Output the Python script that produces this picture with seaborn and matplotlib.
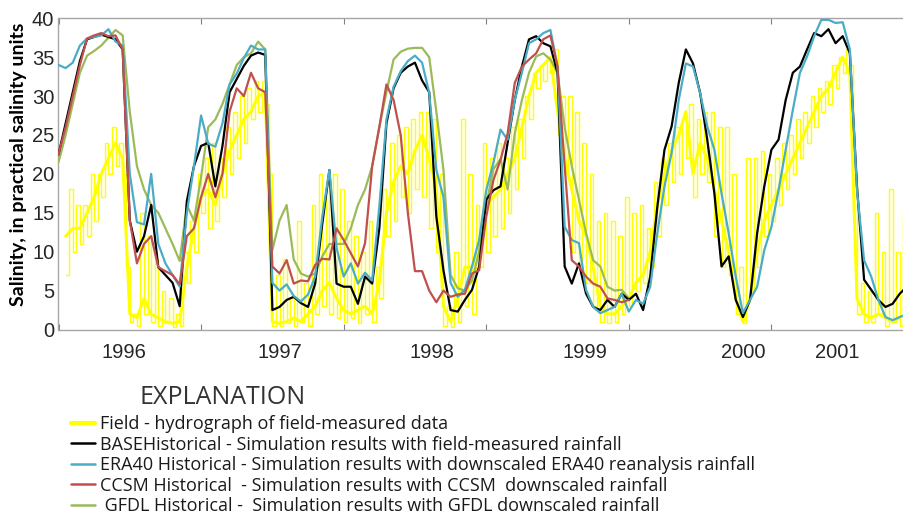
import numpy as np
import pandas as pd
import matplotlib
matplotlib.use("Agg")
import matplotlib.pyplot as plt
import seaborn as sns
from matplotlib.lines import Line2D

# ---------------- data (decimal years) ----------------
t_start = 1996.0
t_step = 0.05

base_hist = [
    22.5, 26.5, 30.5, 34.5, 37.3, 37.6, 37.9, 37.6, 37.3, 36.0, 14.0, 10.0, 12.0, 16.0, 8.0, 7.0, 6.0, 3.0, 16.5, 21.0,
    23.6, 24.0, 18.4, 23.6, 30.5, 32.2, 33.9, 35.2, 35.6, 35.3, 2.5, 2.9, 3.8, 4.2, 3.4, 2.9, 5.9, 13.6, 20.5, 5.9,
    5.5, 5.5, 3.3, 6.8, 5.9, 13.0, 26.5, 31.0, 33.0, 33.8, 34.3, 32.0, 30.5, 14.5, 7.6, 2.5, 2.3, 3.8, 5.1, 8.1,
    16.7, 17.9, 18.4, 24.0, 29.5, 33.8, 37.3, 37.7, 36.8, 36.4, 33.0, 8.1, 5.9, 8.5, 4.6, 2.9, 2.5, 3.8, 2.9, 4.6,
    3.8, 4.6, 2.5, 6.8, 15.8, 23.1, 26.1, 31.7, 36.0, 34.2, 30.4, 24.4, 17.5, 8.1, 9.4, 3.8, 1.6, 3.8, 12.4, 18.4,
    23.1, 24.4, 29.5, 33.0, 33.8, 36.0, 38.1, 37.7, 38.6, 36.8, 37.7, 35.5, 18.4, 6.4, 5.1, 3.8, 2.9, 3.3, 4.6, 5.5,
]

era40_hist = [
    34.0, 33.6, 34.3, 36.5, 37.4, 37.6, 37.8, 38.6, 37.0, 36.5, 20.0, 13.8, 13.5, 20.0, 11.0, 8.5, 7.0, 5.5, 15.0, 21.0,
    27.5, 23.9, 23.5, 26.5, 31.5, 32.9, 34.9, 36.5, 36.0, 36.0, 6.0, 5.0, 5.8, 4.3, 3.6, 4.5, 6.8, 14.5, 20.5, 10.5,
    6.8, 8.5, 5.9, 7.3, 6.3, 15.8, 27.0, 31.2, 33.2, 34.5, 35.2, 34.3, 30.4, 20.5, 17.0, 6.0, 4.2, 5.1, 8.1, 11.5,
    17.9, 21.4, 25.7, 24.4, 29.5, 33.0, 36.8, 37.3, 38.1, 38.5, 33.8, 13.2, 11.5, 11.1, 5.1, 2.9, 2.1, 2.5, 2.9, 4.6,
    2.3, 3.8, 3.3, 5.5, 12.4, 18.4, 22.7, 29.5, 34.2, 33.8, 30.4, 26.1, 23.1, 17.5, 12.4, 6.8, 2.1, 3.8, 5.5, 10.2,
    13.2, 17.9, 23.1, 28.2, 33.0, 35.1, 37.7, 39.8, 39.8, 39.4, 39.5, 36.0, 17.9, 8.9, 6.8, 3.8, 1.6, 1.2, 1.6, 2.0,
]

ccsm_hist = [
    22.5, 26.0, 30.0, 34.0, 37.4, 37.8, 38.1, 37.7, 37.8, 36.0, 14.0, 8.5, 11.0, 12.0, 8.0, 7.5, 7.0, 5.8, 12.0, 13.0,
    17.0, 20.0, 17.0, 20.0, 28.0, 31.0, 30.0, 33.0, 31.0, 30.5, 8.1, 7.2, 8.9, 5.9, 6.3, 6.2, 8.3, 9.1, 9.0, 13.0,
    11.5, 9.8, 8.1, 11.1, 21.0, 26.0, 31.5, 29.5, 25.0, 15.0, 7.5, 7.5, 5.0, 3.5, 5.0, 4.2, 4.5, 4.6, 7.2, 7.6,
    14.5, 19.2, 21.8, 25.2, 31.7, 33.8, 34.7, 35.5, 37.3, 37.8, 33.8, 21.0, 8.9, 8.1, 6.8, 5.9, 5.5, 4.0, 3.8, 3.5,
    3.8,
]

gfdl_hist = [
    21.5, 25.0, 29.0, 33.0, 35.2, 35.8, 36.5, 37.5, 38.5, 37.8, 28.0, 21.0, 18.0, 16.0, 15.0, 13.0, 11.0, 8.8, 16.0, 14.0,
    19.6, 26.0, 27.0, 29.0, 31.5, 34.0, 35.0, 35.5, 37.0, 36.0, 10.2, 14.0, 16.0, 9.0, 7.2, 6.8, 7.2, 9.4, 11.0, 11.0,
    11.0, 13.0, 16.0, 18.0, 21.0, 26.0, 30.5, 34.7, 35.7, 36.1, 36.2, 36.2, 35.0, 28.0, 20.5, 7.0, 5.3, 5.0, 6.3, 10.0,
    16.0, 20.6, 21.9, 18.0, 25.2, 29.5, 33.0, 35.1, 35.5, 34.7, 33.0, 26.0, 21.0, 16.7, 12.4, 8.9, 8.1, 5.5, 5.0, 5.1,
    4.0,
]

field_start = 1996.05
field_step = 0.025
field = [
    7, 18, 10, 16, 11, 16, 12, 20, 14, 20, 17, 24, 20, 26, 21, 24, 20, 8, 1, 2, 0.5, 15, 2, 12, 1, 9, 0.5, 5, 0.8, 4,
    0.3, 2, 0.5, 10, 6, 14, 10, 20,
    15, 22, 13, 24, 14, 22, 17, 26, 20, 28, 22, 30, 24, 31, 27, 32, 28, 32, 29, 20, 0.5, 7, 0.5, 9, 0.8, 4, 0.5, 14,
    1, 6, 0.5, 16, 2, 20, 3, 19, 2, 20, 1.5, 18,
    1, 14, 1.5, 12, 0.8, 10, 2, 14, 1, 8, 4, 18, 12, 24, 14, 25, 17, 26, 15, 27, 18, 28, 17, 28, 13, 27, 10, 20,
    0.5, 3, 0.3, 10, 1, 27, 3, 20, 2, 16, 8, 24,
    10, 22, 12, 24, 13, 22, 15, 26, 18, 27, 22, 30, 27, 33, 31, 34, 32, 35, 33, 36, 25, 30, 20, 30, 10, 28, 8, 24,
    6, 20, 3, 14, 1, 15, 0.8, 14, 1, 12, 2, 17,
    3, 15, 5, 16, 6, 13, 8, 19, 12, 22, 16, 24, 19, 26, 20, 27, 22, 29, 17, 27, 20, 28, 19, 28, 12, 26, 8, 26,
    7, 20, 2, 8, 0.8, 22, 5, 22, 8, 23, 12, 20,
    14, 22, 16, 24, 18, 25, 20, 27, 22, 28, 24, 30, 26, 31, 28, 32, 29, 34, 31, 35, 33, 36, 34, 20, 2, 6, 1, 5,
    1, 15, 2, 10, 0.5, 18, 1, 10, 0.5, 15,
]

field_daily = [
    12, 13, 13, 15, 17, 20, 22, 24, 22, 2, 1.5, 4, 2, 1.5, 1.0, 0.8, 1.0, 8, 13,
    17, 18, 16, 20, 23, 25, 27, 28, 30, 30.5, 1.0, 0.8, 1.0, 1.5, 1.0, 2, 3, 5, 6, 4,
    2.5, 2, 2.5, 3, 2, 6, 15, 19, 21, 20, 23, 25, 22, 18, 3, 1, 4, 8, 8, 10,
    16, 17, 18, 20, 22, 26, 30, 33, 34, 35, 28, 22, 18, 14, 12, 8, 3, 2, 2, 3,
    4, 6, 7, 10, 16, 20, 23, 25, 28, 20, 24, 22, 18, 14, 10, 4, 1.0, 4, 10, 14,
    16, 18, 20, 22, 24, 26, 28, 30, 31, 33, 35, 33, 4, 2, 1.5, 2, 1.5, 1, 1.5,
]

year_ticks = [1996, 1997, 1998, 1999, 2000, 2001, 2002]
year_label_pos = [1996.46, 1997.55, 1998.62, 1999.69, 2000.80, 2001.46]
year_labels = ["1996", "1997", "1998", "1999", "2000", "2001"]
y_ticks = [0, 5, 10, 15, 20, 25, 30, 35, 40]

legend_labels = [
    "Field - hydrograph of field-measured data",
    "BASEHistorical - Simulation results with field-measured rainfall",
    "ERA40 Historical - Simulation results with downscaled ERA40 reanalysis rainfall",
    "CCSM Historical  - Simulation results with CCSM  downscaled rainfall",
    " GFDL Historical -  Simulation results with GFDL downscaled rainfall",
]

# ---------------- styling ----------------
sns.set_style("white")
plt.rcParams["font.family"] = ["Liberation Sans", "DejaVu Sans"]

C_YEL = "#ffff00"
C_BLK = "#000000"
C_BLU = "#4bacc6"
C_RED = "#c0504d"
C_GRN = "#9bbb59"


def tgrid(start, step, n):
    return start + step * np.arange(n)


fig = plt.figure(figsize=(9.04, 5.21), dpi=100)
ax = fig.add_axes([58.5 / 904, 1 - 329.5 / 521, (914 - 58.5) / 904, (329.5 - 18.3) / 521])

t_field = tgrid(field_start, field_step, len(field))
sns.lineplot(x=t_field, y=field, ax=ax, color=C_YEL, lw=1.0, estimator=None,
             drawstyle="steps-post", zorder=2)
t_fd = tgrid(field_start, t_step, len(field_daily))
sns.lineplot(x=t_fd, y=field_daily, ax=ax, color=C_YEL, lw=2.2, estimator=None, zorder=3)

sns.lineplot(x=tgrid(t_start, t_step, len(gfdl_hist)), y=gfdl_hist, ax=ax, color=C_GRN,
             lw=1.6, estimator=None, zorder=4)
sns.lineplot(x=tgrid(t_start, t_step, len(base_hist)), y=base_hist, ax=ax, color=C_BLK,
             lw=1.6, estimator=None, zorder=5)
sns.lineplot(x=tgrid(t_start, t_step, len(era40_hist)), y=era40_hist, ax=ax, color=C_BLU,
             lw=1.6, estimator=None, zorder=6)
sns.lineplot(x=tgrid(t_start, t_step, len(ccsm_hist)), y=ccsm_hist, ax=ax, color=C_RED,
             lw=1.6, estimator=None, zorder=7)

ax.set_xlim(1996, 2002)
ax.set_ylim(0, 40)

ax.set_xticks(year_ticks)
ax.set_xticklabels([])
ax.set_xticks(year_label_pos, minor=True)
ax.set_xticklabels(year_labels, minor=True)
ax.tick_params(axis="x", which="major", direction="in", length=4, width=0.8,
               color="#808080", top=True, bottom=True)
ax.tick_params(axis="x", which="minor", length=0, pad=9.5, labelsize=14.5,
               labelcolor="#262626")

ax.set_yticks(y_ticks)
ax.set_yticklabels([str(v) for v in y_ticks])
ax.tick_params(axis="y", which="major", length=0, pad=3, labelsize=14.5,
               labelcolor="#262626")

for s in ax.spines.values():
    s.set_color("#a6a6a6")
    s.set_linewidth(1.0)

ax.set_xlabel("")
ax.set_ylabel("")
fig.text(19 / 904, 1 - 164 / 521, "Salinity, in practical salinity units", rotation=90,
         ha="center", va="center", fontsize=14, fontweight="bold",
         family=["Lato", "DejaVu Sans"], color="#000000")

fig.text(140 / 904, 1 - 397 / 521, "EXPLANATION", ha="left", va="center",
         fontsize=18, family=["Open Sans", "DejaVu Sans"], color="#333333")

handles = [
    Line2D([], [], color=C_YEL, lw=3.0),
    Line2D([], [], color=C_BLK, lw=1.8),
    Line2D([], [], color=C_BLU, lw=1.8),
    Line2D([], [], color=C_RED, lw=1.8),
    Line2D([], [], color=C_GRN, lw=1.8),
]
leg = fig.legend(handles, legend_labels, loc="upper left",
                 bbox_to_anchor=(71 / 904, 1 - 415 / 521), frameon=False,
                 prop={"family": ["Open Sans", "DejaVu Sans"], "size": 13},
                 handlelength=1.35, handletextpad=0.25, labelspacing=0.14,
                 borderpad=0, borderaxespad=0)
for txt in leg.get_texts():
    txt.set_color("#1a1a1a")

fig.savefig("out.png", dpi=100)
